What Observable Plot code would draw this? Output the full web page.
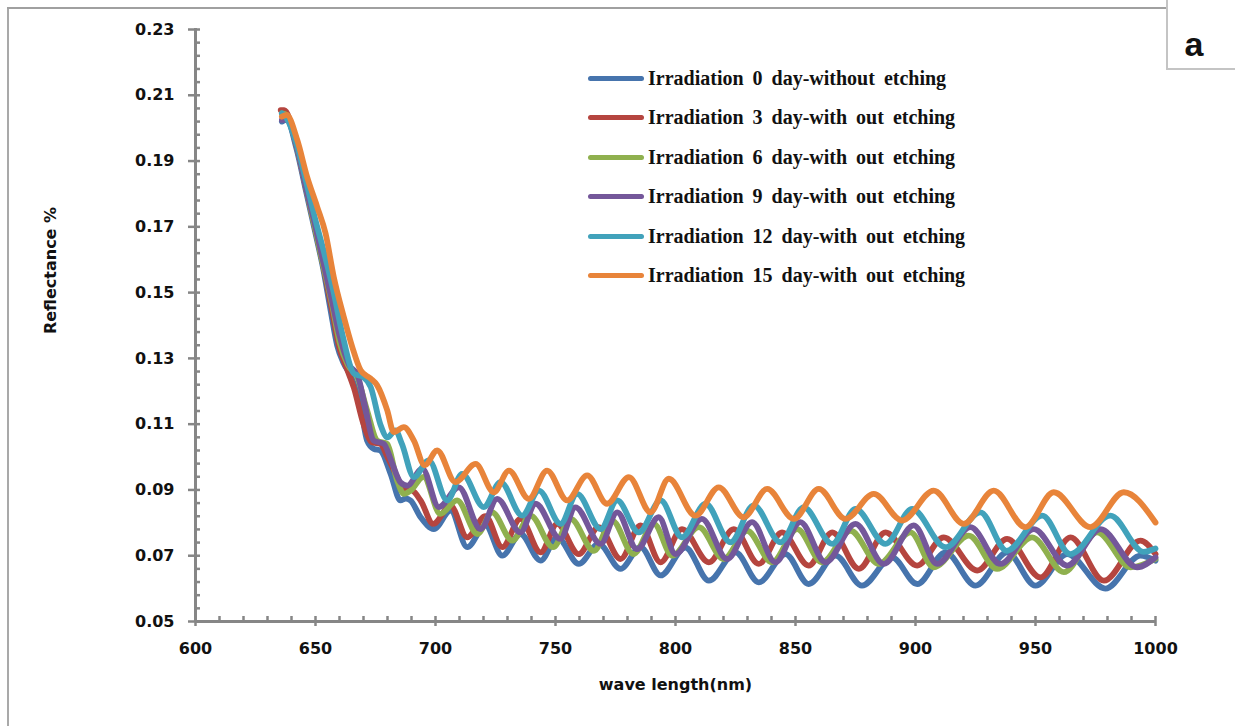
<!DOCTYPE html>
<html>
<head>
<meta charset="utf-8">
<script src="https://cdn.jsdelivr.net/npm/d3@7"></script>
<script src="https://cdn.jsdelivr.net/npm/@observablehq/plot@0.6"></script>
<style>
  html, body { margin: 0; padding: 0; background: #fff; }
  #wrap { position: relative; width: 1235px; height: 726px; overflow: hidden; background: #fff; }
  #chart { position: absolute; left: 0; top: 0; }
  .legend { position: absolute; left: 0; top: 0; font-family: "Liberation Serif", "Times New Roman", serif; font-weight: bold; font-size: 20px; color: #111; }
  .legend .row { position: absolute; left: 588px; height: 26px; display: flex; align-items: center; white-space: nowrap; word-spacing: 4px; }
  .legend .sw { width: 56px; height: 5px; border-radius: 3px; margin-right: 4px; }
</style>
</head>
<body>
<div id="wrap">
  <div style="position:absolute;left:7px;top:7px;width:2px;height:800px;background:#a9a9a9"></div>
  <div style="position:absolute;left:7px;top:7px;width:1161px;height:2px;background:#a0a0a0"></div>
  <div id="chart"></div>
  <div class="legend" id="legend"></div>
  <div style="position:absolute;left:1166px;top:-2px;width:80px;height:72px;border-left:2px solid #c4c4c4;border-bottom:2px solid #c4c4c4;background:#fff;box-sizing:border-box"></div>
  <div style="position:absolute;left:1168px;top:22px;width:52px;height:44px;font-family:'Liberation Sans',Arial,sans-serif;font-weight:bold;font-size:34px;line-height:44px;text-align:center;color:#111">a</div>
</div>
<script>
// ---- Data ----
const seriesNames = [
  "Irradiation 0 day-without etching",
  "Irradiation 3 day-with out etching",
  "Irradiation 6 day-with out etching",
  "Irradiation 9 day-with out etching",
  "Irradiation 12 day-with out etching",
  "Irradiation 15 day-with out etching"
];
const seriesColors = ["#4674ad", "#b5453f", "#8fb04e", "#74579a", "#41a2bb", "#e8843a"];

const xTicks = [600, 650, 700, 750, 800, 850, 900, 950, 1000];
const yTicks = [0.05, 0.07, 0.09, 0.11, 0.13, 0.15, 0.17, 0.19, 0.21, 0.23];

const day0 = [
  [636,0.2020],[638,0.2025],[642,0.1940],[646,0.1810],[650,0.1680],[653,0.1580],[656.3,0.1446],[659,0.1340],
  [661.8,0.1284],[664.6,0.1248],[668.8,0.1152],[671.5,0.1050],[674.3,0.1025],[677,0.1020],[681.3,0.0949],
  [685.4,0.0868],[687.5,0.0874],[689.6,0.0868],[693.8,0.0817],[699.3,0.0781],[706.3,0.0837],[713.2,0.0726],
  [720.8,0.0792],[727.8,0.0700],[735.4,0.0766],[743.8,0.0685],[750.7,0.0756],[759.7,0.0675],[768.0,0.0736],
  [777.1,0.0660],[785.4,0.0726],[793.8,0.0640],[804.1,0.0725],[813.9,0.0624],[825.0,0.0710],[834.7,0.0619],
  [845.8,0.0705],[855.5,0.0614],[866.7,0.0700],[877.7,0.0609],[890.2,0.0695],[900.7,0.0614],[912.5,0.0710],
  [925.0,0.0609],[938.2,0.0710],[950.0,0.0609],[963.2,0.0705],[979.1,0.0600],[993.7,0.0700],[1000,0.0685]
];
const day3 = [
  [635.5,0.2055],[637,0.2055],[642,0.1950],[646,0.1820],[650,0.1690],[653,0.1590],[656.5,0.1460],[660,0.1330],
  [663,0.1270],[666,0.1210],[670,0.1100],[673.5,0.1045],[677,0.1040],[680,0.1000],[684,0.0939],[686.8,0.0898],
  [689.6,0.0900],[693.8,0.0868],[699.0,0.0797],[706.3,0.0852],[713.2,0.0756],[720.8,0.0820],[727.8,0.0726],
  [735.4,0.0812],[743.8,0.0710],[750.7,0.0797],[759.7,0.0705],[768.0,0.0787],[777.1,0.0690],[785.4,0.0792],
  [793.8,0.0680],[802.7,0.0781],[813.9,0.0680],[824.3,0.0781],[834.7,0.0675],[844.4,0.0771],[855.5,0.0670],
  [865.3,0.0771],[876.4,0.0660],[887.5,0.0771],[900.7,0.0670],[911.8,0.0756],[925.7,0.0655],[938.2,0.0751],
  [952.1,0.0634],[964.6,0.0756],[978.5,0.0624],[993.7,0.0746],[1000,0.0705]
];
const day6 = [
  [636,0.2045],[638,0.2040],[642,0.1950],[646,0.1820],[650,0.1690],[653,0.1590],[657,0.1460],[660,0.1350],
  [663.5,0.1280],[667.4,0.1243],[671.5,0.1142],[675.7,0.1050],[679.9,0.1040],[684,0.0929],[686.8,0.0888],
  [689.6,0.0898],[695,0.0940],[702,0.0827],[709,0.0868],[717.5,0.0766],[723.6,0.0832],[732,0.0746],
  [739.6,0.0822],[749,0.0726],[756.3,0.0812],[766,0.0715],[773.6,0.0807],[782.5,0.0705],[791,0.0797],
  [798.6,0.0700],[809.7,0.0787],[820.1,0.0690],[829.8,0.0776],[840.2,0.0680],[850.7,0.0781],[861.1,0.0680],
  [872.9,0.0776],[884.7,0.0675],[897.9,0.0771],[907.6,0.0665],[922.2,0.0761],[934,0.0660],[948.6,0.0756],
  [961.8,0.0650],[975.7,0.0771],[989.6,0.0665],[1000,0.0690]
];
const day9 = [
  [636,0.2025],[638,0.2025],[642,0.1950],[646,0.1820],[650,0.1700],[653,0.1600],[657,0.1470],[660,0.1370],
  [664,0.1280],[667.5,0.1250],[670.5,0.1160],[674.3,0.1050],[678.5,0.1040],[681.5,0.0990],[685.4,0.0923],
  [688.2,0.0913],[694.5,0.0965],[701.4,0.0848],[709.7,0.0908],[718.8,0.0781],[725.7,0.0873],[735.4,0.0771],
  [741.7,0.0858],[752,0.0751],[758.3,0.0847],[768.8,0.0736],[775.7,0.0832],[784,0.0720],[793,0.0817],
  [800,0.0705],[811,0.0812],[821.5,0.0690],[831.9,0.0802],[841.6,0.0680],[852,0.0802],[862.5,0.0680],
  [875,0.0797],[886.8,0.0675],[899.3,0.0792],[909,0.0675],[922.9,0.0787],[935.4,0.0675],[949.3,0.0781],
  [963.2,0.0670],[977.1,0.0781],[992.3,0.0665],[1000,0.0695]
];
const day12 = [
  [636,0.2045],[638,0.2030],[642,0.1955],[646,0.1840],[650,0.1720],[654,0.1610],[657.6,0.1500],[661,0.1380],
  [666,0.1254],[670,0.1243],[673,0.1213],[677,0.1100],[680,0.1060],[683.3,0.1081],[686,0.1040],[691,0.0939],
  [697.2,0.0990],[704.9,0.0868],[711.1,0.0949],[720.1,0.0848],[727.1,0.0924],[736.1,0.0822],[743.1,0.0898],
  [752.1,0.0797],[759,0.0888],[768.8,0.0781],[775.7,0.0868],[784.7,0.0771],[793.8,0.0868],[802.7,0.0756],
  [812.5,0.0858],[822.9,0.0741],[832.6,0.0853],[843.7,0.0741],[853.4,0.0847],[865.3,0.0736],[875,0.0842],
  [887.5,0.0736],[898.6,0.0842],[912.5,0.0726],[927,0.0832],[938,0.0715],[952.8,0.0822],[964.5,0.0705],
  [981.2,0.0822],[995,0.0712],[1000,0.0722]
];
const day15 = [
  [636,0.2035],[638,0.2040],[642.4,0.1964],[646.5,0.1852],[650.7,0.1761],[654.2,0.1680],[657.6,0.1548],
  [661.8,0.1426],[665.3,0.1335],[668.8,0.1264],[672.9,0.1239],[675.7,0.1218],[679.9,0.1142],[682.6,0.1076],
  [686.8,0.1091],[691,0.1050],[695.5,0.0975],[700.7,0.1020],[708.3,0.0924],[716.7,0.0979],[724.3,0.0893],
  [730.6,0.0959],[738.9,0.0873],[746.5,0.0959],[754.9,0.0868],[763.2,0.0944],[771.5,0.0858],[780.6,0.0939],
  [789.6,0.0832],[797.2,0.0934],[808.3,0.0822],[818,0.0908],[828.4,0.0817],[838.2,0.0903],[849.3,0.0812],
  [859.7,0.0903],[870.8,0.0812],[882.6,0.0888],[894.4,0.0807],[907.6,0.0898],[920.1,0.0797],[932.6,0.0898],
  [945.8,0.0787],[957.6,0.0893],[972.9,0.0787],[986.8,0.0893],[1000,0.0801]
];
const seriesData = [day0, day3, day6, day9, day12, day15];

// ---- Build chart ----
const W = 1235, H = 726;
const mL = 195, mR = 80, mT = 29, mB = 105;
const innerW = W - mL - mR, innerH = H - mT - mB;
const axisColor = "#868686";

const xMinor = d3.range(610, 1000, 10).filter(v => v % 50 !== 0);
const yMinor = d3.range(0, 46).map(i => 0.05 + i * 0.004).filter(v => v < 0.2301 && Math.abs(((v - 0.05) / 0.02) - Math.round((v - 0.05) / 0.02)) > 0.01);

const lines = seriesData.map((data, i) =>
  Plot.line(data, {x: d => d[0], y: d => d[1], stroke: seriesColors[i], strokeWidth: 5.8,
    curve: "monotone-x", strokeLinejoin: "round", strokeLinecap: "round"})
);

const chart = Plot.plot({
  width: W, height: H,
  marginLeft: mL, marginRight: mR, marginTop: mT, marginBottom: mB,
  style: {fontFamily: "'DejaVu Sans', sans-serif", fontWeight: "bold", fontSize: "16px", color: "#111", background: "transparent"},
  x: {domain: [600, 1000], axis: null},
  y: {domain: [0.05, 0.23], axis: null},
  marks: [
    ...lines,
    // axis lines
    Plot.ruleY([0.05], {stroke: axisColor, strokeWidth: 3}),
    Plot.ruleX([600], {stroke: axisColor, strokeWidth: 3, insetTop: -1}),
    // x ticks
    Plot.tickX(xTicks, {x: d => d, stroke: axisColor, strokeWidth: 2.5, insetTop: innerH - 5, insetBottom: -5}),
    Plot.tickX(xMinor, {x: d => d, stroke: axisColor, strokeWidth: 2.5, insetTop: innerH - 5}),
    // y ticks
    Plot.tickY(yTicks, {y: d => d, stroke: axisColor, strokeWidth: 2.5, insetLeft: -7, insetRight: innerW - 5}),
    Plot.tickY(yMinor, {y: d => d, stroke: axisColor, strokeWidth: 2.5, insetRight: innerW - 5}),
    // tick labels
    Plot.axisX(xTicks, {tickSize: 0, tickPadding: 21, tickFormat: d => String(d), label: null, fontSize: 16}),
    Plot.axisY(yTicks, {tickSize: 0, tickPadding: 21, tickFormat: d => d.toFixed(2), label: null, fontSize: 16}),
    // axis titles
    Plot.text(["wave length(nm)"], {frameAnchor: "bottom", dy: 63, text: d => d, fontSize: 16, lineAnchor: "middle", textAnchor: "middle"}),
    Plot.text(["Reflectance %"], {frameAnchor: "left", dx: -145, dy: -55, rotate: -90, text: d => d, fontSize: 16, lineAnchor: "middle", textAnchor: "middle"})
  ]
});
document.getElementById("chart").appendChild(chart);

// ---- Legend ----
const legend = document.getElementById("legend");
const rowCenters = [78, 117, 157, 196, 236, 275];
seriesNames.forEach((name, i) => {
  const row = document.createElement("div");
  row.className = "row";
  row.style.top = (rowCenters[i] - 13) + "px";
  const sw = document.createElement("div");
  sw.className = "sw";
  sw.style.background = seriesColors[i];
  const t = document.createElement("span");
  t.textContent = name;
  row.appendChild(sw);
  row.appendChild(t);
  legend.appendChild(row);
});
</script>
</body>
</html>
